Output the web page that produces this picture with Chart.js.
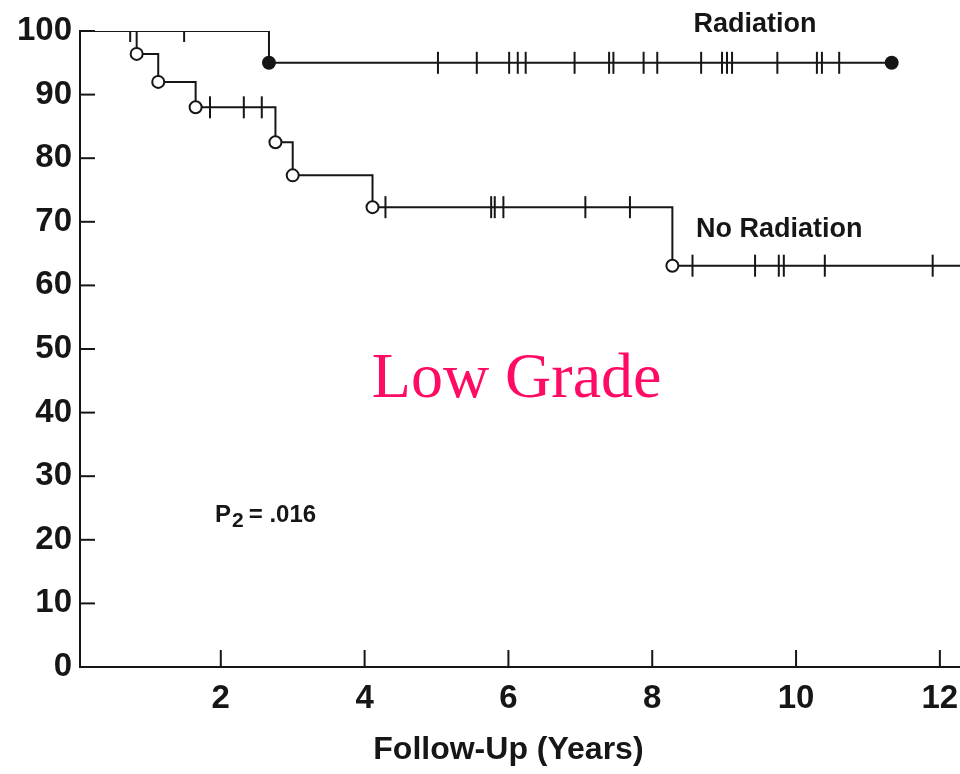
<!DOCTYPE html>
<html>
<head>
<meta charset="utf-8">
<title>Low Grade - Follow-Up</title>
<script src="https://cdn.jsdelivr.net/npm/chart.js@4.4.0/dist/chart.umd.min.js"></script>
<style>
  html, body { margin: 0; padding: 0; background: #fff; }
  #wrap { width: 960px; height: 774px; }
</style>
</head>
<body>
<div id="wrap"><canvas id="km"></canvas></div>
<script>
// ===============================
// Datos
// ===============================
// Radiation: tiempos de evento (años) y supervivencia (%)
const radT = [0, 2.67, 11.33];
const radS = [100, 95, 95];
const radCensor = [0.74, 1.49, 5.02, 5.56, 6.01, 6.13, 6.24, 6.92, 7.40, 7.46,
                   7.88, 8.07, 8.68, 8.97, 9.04, 9.11, 9.74, 10.29, 10.36, 10.60];

// No Radiation
const noRadT = [0, 0.83, 1.13, 1.65, 2.76, 3.00, 4.11, 8.28, 12.3];
const noRadS = [100, 96.4, 92.0, 88.0, 82.5, 77.3, 72.3, 63.1, 63.1];
const noRadCensor = [1.85, 2.32, 2.57, 4.29, 5.76, 5.81, 5.93, 7.07, 7.69,
                     8.56, 9.43, 9.76, 9.83, 10.40, 11.90];

const xTicks = [2, 4, 6, 8, 10, 12];
const yTicks = [0, 10, 20, 30, 40, 50, 60, 70, 80, 90, 100];

const INK = "#161616";
const FONT = "'Liberation Sans', Arial, sans-serif";

// nivel de la curva en el tiempo t
function nivel(T, S, t) {
  let s = S[0];
  for (let i = 0; i < T.length; i++) if (T[i] <= t) s = S[i];
  return s;
}

function puntos(T, S) {
  return T.map((t, i) => ({ x: t, y: S[i] }));
}

// ===============================
// Marcas de ejes hacia dentro + textos
// ===============================
const extras = {
  id: "extras",
  beforeDatasetsDraw(chart) {
    const { ctx, chartArea, scales } = chart;
    ctx.save();
    ctx.strokeStyle = INK;
    ctx.lineWidth = 2;
    yTicks.forEach(v => {
      if (v === 0) return;
      const y = scales.y.getPixelForValue(v);
      ctx.beginPath();
      ctx.moveTo(chartArea.left, y);
      ctx.lineTo(chartArea.left + 15, y);
      ctx.stroke();
    });
    xTicks.forEach(v => {
      const x = scales.x.getPixelForValue(v);
      ctx.beginPath();
      ctx.moveTo(x, chartArea.bottom);
      ctx.lineTo(x, chartArea.bottom - 17);
      ctx.stroke();
    });
    ctx.restore();
  },
  afterDatasetsDraw(chart) {
    const { ctx, scales } = chart;
    const X = v => scales.x.getPixelForValue(v);
    const Y = v => scales.y.getPixelForValue(v);
    ctx.save();
    ctx.fillStyle = INK;
    ctx.textBaseline = "alphabetic";

    ctx.font = "bold 27px " + FONT;
    ctx.textAlign = "center";
    ctx.fillText("Radiation", X(9.43), Y(99.8));
    ctx.textAlign = "left";
    ctx.fillText("No Radiation", X(8.61), Y(67.6));

    // P2 = .016
    ctx.font = "bold 24px " + FONT;
    let px = X(1.92), py = Y(22.8);
    ctx.fillText("P", px, py);
    px += ctx.measureText("P").width + 1;
    ctx.font = "bold 21px " + FONT;
    ctx.fillText("2", px, py + 5);
    px += ctx.measureText("2").width + 5;
    ctx.font = "bold 24px " + FONT;
    ctx.fillText("= .016", px, py);

    // titulo del eje x, centrado en 6 años como en la figura
    ctx.font = "bold 32px " + FONT;
    ctx.textAlign = "center";
    ctx.textBaseline = "middle";
    ctx.fillText("Follow-Up (Years)", X(6), 750);

    ctx.fillStyle = "#ff0a64";
    ctx.font = "64px 'Liberation Serif', 'Times New Roman', serif";
    ctx.textAlign = "left";
    ctx.textBaseline = "alphabetic";
    ctx.fillText("Low Grade", X(4.10), Y(42.5));
    ctx.restore();
  }
};

const curva = (T, S, radios, relleno) => ({
  type: "line",
  data: puntos(T, S),
  stepped: "before",
  borderColor: INK,
  borderWidth: 2,
  fill: false,
  pointStyle: "circle",
  pointRadius: radios,
  pointBackgroundColor: relleno,
  pointBorderColor: INK,
  pointBorderWidth: 2,
  order: 1
});

const censuras = (T, S, C) => ({
  type: "scatter",
  data: C.map(t => ({ x: t, y: nivel(T, S, t) })),
  pointStyle: "line",
  rotation: 90,
  pointRadius: 11,
  borderColor: INK,
  pointBorderColor: INK,
  pointBorderWidth: 2,
  order: 2
});

new Chart(document.getElementById("km"), {
  type: "line",
  data: {
    datasets: [
      curva(radT, radS, [0, 6, 6], INK),
      curva(noRadT, noRadS, [0, 6, 6, 6, 6, 6, 6, 6, 0], "#ffffff"),
      censuras(radT, radS, radCensor),
      censuras(noRadT, noRadS, noRadCensor)
    ]
  },
  options: {
    responsive: true,
    maintainAspectRatio: false,
    animation: false,
    layout: { autoPadding: false, padding: { top: 31, right: 0, left: 0, bottom: 0 } },
    plugins: { legend: { display: false }, tooltip: { enabled: false } },
    scales: {
      x: {
        type: "linear",
        min: 0.042,
        max: 12.28,
        afterBuildTicks: s => { s.ticks = xTicks.map(v => ({ value: v })); },
        afterFit: s => { s.height = 107; s.paddingRight = 0; s.paddingLeft = 0; },
        grid: { drawOnChartArea: false, drawTicks: false },
        border: { color: INK, width: 2 },
        ticks: { color: INK, padding: 12, font: { family: FONT, size: 33, weight: "bold" } }
      },
      y: {
        min: 0,
        max: 100,
        afterBuildTicks: s => { s.ticks = yTicks.map(v => ({ value: v })); },
        afterFit: s => { s.width = 80; },
        grid: { drawOnChartArea: false, drawTicks: false },
        border: { color: INK, width: 2 },
        ticks: { color: INK, padding: 8, font: { family: FONT, size: 33, weight: "bold" } }
      }
    }
  },
  plugins: [extras]
});
</script>
</body>
</html>
